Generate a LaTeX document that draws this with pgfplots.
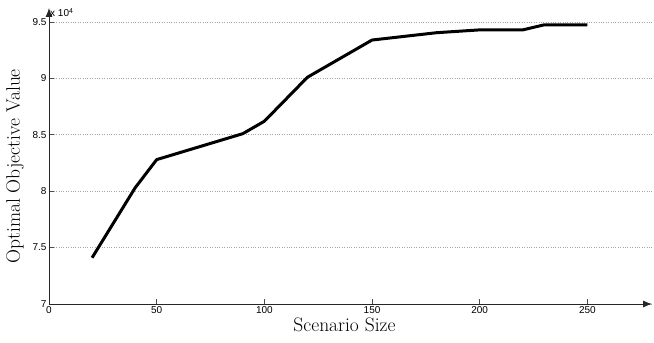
\documentclass[border=0pt]{standalone}
\usepackage{fontspec}
\usepackage{pgfplots}
\pgfplotsset{compat=1.18}
\usetikzlibrary{arrows.meta}
\newfontfamily\tickfont{Liberation Sans}
\begin{document}
\begin{tikzpicture}
\begin{axis}[
  scale only axis,
  width=603pt, height=296pt,
  xmin=0, xmax=280, ymin=7, ymax=9.624,
  axis lines=left,
  axis line style={-{Latex[length=9pt,width=7pt]}, line width=0.8pt, black!85},
  xtick={0,50,100,150,200,250},
  ytick={7,7.5,8,8.5,9,9.5},
  tick align=inside,
  major tick length=5pt,
  tick style={black!70, line width=0.6pt},
  ymajorgrids,
  grid style={dotted, gray!70, line width=0.7pt},
  /pgf/number format/assume math mode=true,
  ticklabel style={font=\tickfont\fontsize{10}{11}\selectfont},
  xticklabel style={yshift=1pt},
  yticklabel style={xshift=1pt},
  xlabel={Scenario Size},
  ylabel={Optimal Objective Value},
  label style={font=\fontsize{19.5}{20}\selectfont},
  xlabel style={at={(rel axis cs:0.49,0)}, anchor=north, yshift=-10pt},
  ylabel style={at={([xshift=-34pt]rel axis cs:0,0.465)}, anchor=center},
  clip=false,
]
\addplot[black, line width=3pt, line join=round] coordinates {
(20,7.41) (40,8.03) (50,8.28) (90,8.51) (100,8.62) (120,9.01)
(150,9.34) (180,9.405) (200,9.43) (220,9.43) (230,9.475) (250,9.475)
};
\coordinate (O) at (rel axis cs:0,0);
\node[anchor=base west, font=\tickfont\fontsize{10}{11}\selectfont, inner sep=0pt] at (rel axis cs:0,1) [xshift=1pt, yshift=-9pt] {x 10\textsuperscript{4}};
\end{axis}
\pgfresetboundingbox
\path (O) ++(-49pt,-39pt) rectangle ++(654pt,343pt);
\end{tikzpicture}
\end{document}
